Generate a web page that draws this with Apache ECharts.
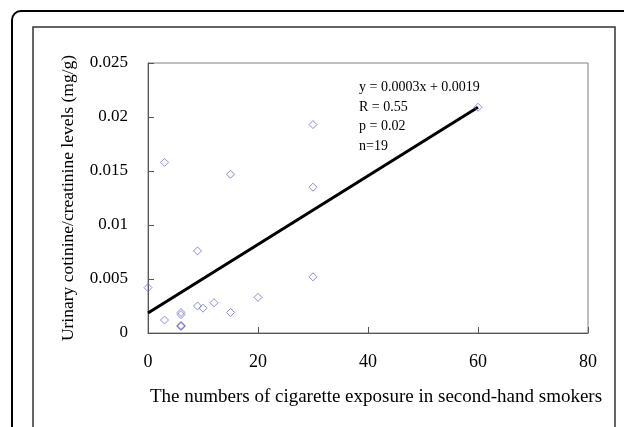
<!DOCTYPE html>
<html>
<head>
    <meta charset="UTF-8">
    <title>Cotinine vs cigarette exposure</title>
    <style>
        html, body { margin: 0; padding: 0; background: #fff; }
        #chart { width: 624px; height: 427px; }
    </style>
    <script src="https://cdn.jsdelivr.net/npm/echarts@6/dist/echarts.min.js"></script>
</head>
<body>
    <div id="chart"></div>
    <script>
        // exposure counts and cotinine/creatinine ratios
        const exposure = [0, 3, 3, 6, 6, 6, 6, 9, 9, 10, 12, 15, 15, 20, 30, 30, 30, 60, 6];
        const cotinine = [0.0042, 0.0012, 0.0158, 0.0019, 0.0017, 0.0007, 0.0006, 0.0076, 0.0025,
                          0.0023, 0.0028, 0.0147, 0.0019, 0.0033, 0.0193, 0.0135, 0.0052, 0.0209, 0.00065];

        // fitted line endpoints
        const fitX = [0, 60];
        const fitY = [0.00185, 0.0209];

        const statLines = ['y = 0.0003x + 0.0019', 'R = 0.55', 'p = 0.02', 'n=19'];

        const font = 'Liberation Serif';

        const chart = echarts.init(document.getElementById('chart'));

        const option = {
            animation: false,
            backgroundColor: '#fff',
            grid: {
                left: 148, right: 36, top: 63, bottom: 94,
                show: true, borderColor: '#808080', borderWidth: 1
            },
            xAxis: {
                type: 'value',
                min: 0, max: 80, interval: 20,
                name: 'The numbers of cigarette exposure in second-hand smokers',
                nameLocation: 'middle',
                nameGap: 55,
                nameTextStyle: { fontFamily: font, fontSize: 19, color: '#000', padding: [0, 0, 0, 16] },
                axisLine: { lineStyle: { color: '#555' } },
                axisTick: { inside: true, length: 6, lineStyle: { color: '#555' } },
                axisLabel: { fontFamily: font, fontSize: 18, color: '#000', margin: 20 },
                splitLine: { show: false }
            },
            yAxis: {
                type: 'value',
                min: 0, max: 0.025, interval: 0.005,
                name: 'Urinary cotinine/creatinine levels (mg/g)',
                nameLocation: 'middle',
                nameGap: 71,
                nameTextStyle: { fontFamily: font, fontSize: 17.5, color: '#000' },
                axisLine: { show: true, lineStyle: { color: '#555' } },
                axisTick: { show: true, inside: true, length: 6, lineStyle: { color: '#555' } },
                axisLabel: {
                    fontFamily: font, fontSize: 17, color: '#000', margin: 20,
                    formatter: v => String(+v.toFixed(3))
                },
                splitLine: { show: false }
            },
            series: [
                {
                    type: 'line',
                    data: fitX.map((x, i) => [x, fitY[i]]),
                    symbol: 'none',
                    lineStyle: { color: '#000', width: 3 },
                    z: 2
                },
                {
                    type: 'scatter',
                    data: exposure.map((x, i) => [x, cotinine[i]]),
                    symbol: 'diamond',
                    symbolSize: 8,
                    itemStyle: { color: 'transparent', borderColor: '#6f6fc8', borderWidth: 1 },
                    z: 3
                }
            ],
            graphic: [
                {
                    type: 'rect',
                    shape: { x: 12, y: 11, width: 700, height: 500, r: 9 },
                    style: { fill: 'none', stroke: '#000', lineWidth: 2 },
                    silent: true
                },
                {
                    type: 'rect',
                    shape: { x: 33, y: 27, width: 582, height: 500 },
                    style: { fill: 'none', stroke: '#333', lineWidth: 1.5 },
                    silent: true
                },
                {
                    type: 'text',
                    left: 359, top: 78,
                    style: {
                        text: statLines.join('\n'),
                        font: '14px "Liberation Serif"',
                        lineHeight: 19.5,
                        fill: '#000'
                    }
                }
            ]
        };

        chart.setOption(option);
    </script>
</body>
</html>
